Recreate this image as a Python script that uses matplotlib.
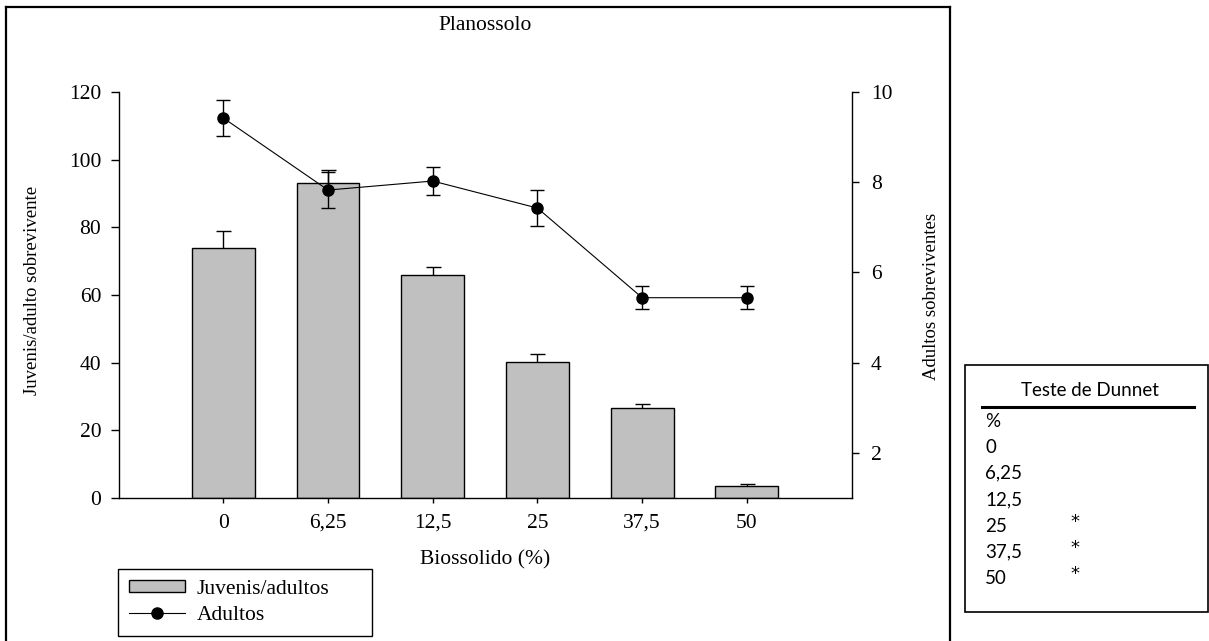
import matplotlib
matplotlib.use("Agg")
import matplotlib.pyplot as plt
from matplotlib.lines import Line2D
from matplotlib.patches import Rectangle, Patch
import numpy as np

# ---- data -------------------------------------------------------------
categories = ["0", "6,25", "12,5", "25", "37,5", "50"]
juvenis = [73.8, 93.1, 65.9, 40.1, 26.5, 3.5]
juvenis_err = [5.2, 3.9, 2.3, 2.4, 1.2, 0.5]
adultos = [9.43, 7.83, 8.03, 7.43, 5.44, 5.44]
adultos_err = [0.40, 0.39, 0.32, 0.39, 0.25, 0.25]

left_ticks = [0, 20, 40, 60, 80, 100, 120]
right_ticks = [2, 4, 6, 8, 10]

dunnet_rows = ["%", "0", "6,25", "12,5", "25", "37,5", "50"]
dunnet_marks = ["", "", "", "", "*", "*", "*"]

# ---- figure -------------------------------------------------------------
W, H = 1209, 641
fig = plt.figure(figsize=(W / 100, H / 100), dpi=100)

def fx(px):
    return px / W

def fy(py):
    return 1 - py / H

serif = "Liberation Serif"
fs = 15.5

ax_l, ax_r, ax_t, ax_b = 118.6, 851.6, 92.3, 497.7
ax = fig.add_axes([fx(ax_l), fy(ax_b), fx(ax_r - ax_l), (ax_b - ax_t) / H])
ax2 = ax.twinx()

x = np.arange(len(categories))

# bars with upward error bars (lower half hidden behind the bars)
ax.errorbar(x, juvenis, yerr=juvenis_err, fmt="none", ecolor="black",
            elinewidth=1.0, capsize=5.4, capthick=1.0, zorder=1)
ax.bar(x, juvenis, width=0.6, color="#c0c0c0", edgecolor="black",
       linewidth=1.0, zorder=2)

# survivors line
ax2.errorbar(x, adultos, yerr=adultos_err, fmt="-o", color="black",
             markersize=8, linewidth=0.8, elinewidth=1.0, capsize=4.7,
             capthick=1.0)

ax.set_xlim(-1, 6)
ax.set_ylim(0, 120)
ax2.set_ylim(1, 10)

ax.set_xticks(x)
ax.set_xticklabels(categories, fontfamily=serif, fontsize=fs)
ax.set_yticks(left_ticks)
ax.set_yticklabels([str(v) for v in left_ticks], fontfamily=serif, fontsize=fs)
ax2.set_yticks(right_ticks)
ax2.set_yticklabels([str(v) for v in right_ticks], fontfamily=serif, fontsize=fs)

for s in ("top", "right"):
    ax.spines[s].set_visible(False)
for s in ("top", "left", "bottom"):
    ax2.spines[s].set_visible(False)
for sp in (ax.spines["left"], ax.spines["bottom"], ax2.spines["right"]):
    sp.set_linewidth(1.0)

ax.tick_params(axis="y", direction="out", length=5.5, width=1.0, pad=7)
ax.tick_params(axis="x", direction="out", length=3.6, width=1.0, pad=8)
ax2.tick_params(axis="y", direction="out", length=4.8, width=1.0, pad=9)

ax.set_xlabel("Biossolido (%)", fontfamily=serif, fontsize=fs)
ax.xaxis.set_label_coords(0.5, (ax_b - 560) / (ax_b - ax_t))
ax.xaxis.label.set_va("center")

ax.set_ylabel("Juvenis/adulto sobrevivente", fontfamily=serif, fontsize=13.5)
ax.yaxis.set_label_coords((32 - ax_l) / (ax_r - ax_l), (ax_b - 290.5) / (ax_b - ax_t))
ax.yaxis.label.set_va("center")

ax2.set_ylabel("Adultos sobreviventes", fontfamily=serif, fontsize=13.5)
ax2.yaxis.set_label_coords((932 - ax_l) / (ax_r - ax_l), (ax_b - 296) / (ax_b - ax_t))
ax2.yaxis.label.set_va("center")

fig.text(fx(485), fy(25), "Planossolo", fontfamily=serif, fontsize=fs,
         ha="center", va="center")

# legend below the plot
handles = [Patch(facecolor="#c0c0c0", edgecolor="black", linewidth=1.0),
           Line2D([], [], color="black", marker="o", markersize=8, linewidth=0.8)]
leg = fig.legend(handles, ["Juvenis/adultos", "Adultos"],
                 loc="upper left",
                 bbox_to_anchor=(fx(118.3), fy(638), fx(371.7 - 118.3), (638 - 569) / H),
                 mode="expand", borderaxespad=0, fancybox=False, frameon=True,
                 edgecolor="black", framealpha=1, handlelength=2.6,
                 handleheight=0.5, handletextpad=0.55, borderpad=0.5,
                 labelspacing=0.35, prop={"family": serif, "size": fs})
leg.get_frame().set_linewidth(1.0)

# outer frame around the plot
frame_kw = dict(color="black", linewidth=1.6, transform=fig.transFigure,
                solid_capstyle="projecting")
fig.add_artist(Line2D([fx(6), fx(6)], [fy(7), -0.01], **frame_kw))
fig.add_artist(Line2D([fx(6), fx(950)], [fy(7), fy(7)], **frame_kw))
fig.add_artist(Line2D([fx(950), fx(950)], [fy(7), -0.01], **frame_kw))

# Dunnett test table
fig.add_artist(Rectangle((fx(965), fy(612)), fx(1207.5 - 965), (612 - 365) / H,
                         transform=fig.transFigure, fill=False,
                         edgecolor="black", linewidth=1.2))
sans = "Lato"
tfs = 13.5
fig.text(fx(1090), fy(390), "Teste de Dunnet", fontfamily=sans, fontsize=tfs,
         ha="center", va="center")
fig.add_artist(Line2D([fx(982), fx(1194)], [fy(406.7), fy(406.7)],
                      color="black", linewidth=2.2, transform=fig.transFigure))
row_y = [421.7, 447.3, 473.3, 500, 526, 552, 578]
for label, mark, yy in zip(dunnet_rows, dunnet_marks, row_y):
    fig.text(fx(985), fy(yy), label, fontfamily=sans, fontsize=tfs,
             ha="left", va="center")
    if mark:
        fig.text(fx(1075), fy(yy - 4), mark, fontfamily="DejaVu Sans",
                 fontsize=13, ha="center", va="center")

fig.savefig("out.png", dpi=100)
